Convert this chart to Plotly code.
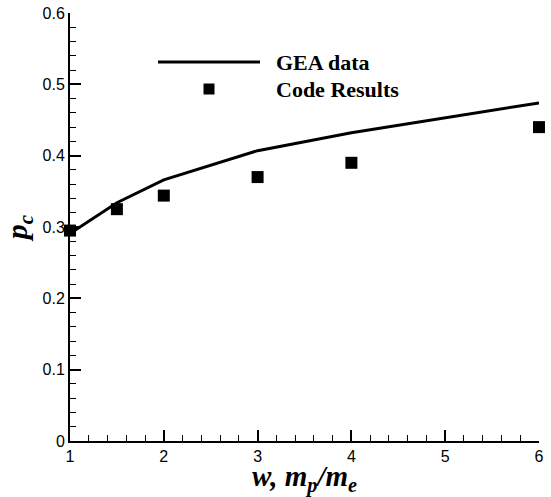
import plotly.graph_objects as go

# Mass ratio w = m_p/m_e
gea_w = [1, 1.5, 2, 3, 4, 6]
gea_pc = [0.291, 0.334, 0.366, 0.407, 0.432, 0.474]

code_w = [1, 1.5, 2, 3, 4, 6]
code_pc = [0.295, 0.325, 0.344, 0.370, 0.390, 0.440]

x_ticks = [1, 2, 3, 4, 5, 6]
y_ticks = [0, 0.1, 0.2, 0.3, 0.4, 0.5, 0.6]
y_ticktext = ["0", "0.1", "0.2", "0.3", "0.4", "0.5", "0.6"]

serif = "Liberation Serif"
sans = "Liberation Sans"

fig = go.Figure()
fig.add_trace(go.Scatter(x=gea_w, y=gea_pc, mode="lines", name="GEA data",
                         line=dict(color="black", width=3), showlegend=False))
fig.add_trace(go.Scatter(x=code_w, y=code_pc, mode="markers", name="Code Results",
                         marker=dict(symbol="square", size=12, color="black",
                                     line=dict(width=0)),
                         showlegend=False, cliponaxis=False))

# Legend drawn by hand: long line sample and square marker
fig.add_shape(type="line", xref="paper", yref="paper",
              x0=(158 - 70) / 469, x1=(260 - 70) / 469,
              y0=(441 - 62) / 428, y1=(441 - 62) / 428,
              line=dict(color="black", width=3))
fig.add_shape(type="rect", xref="paper", yref="paper",
              x0=(203.5 - 70) / 469, x1=(214.5 - 70) / 469,
              y0=(441 - 94.5) / 428, y1=(441 - 83.5) / 428,
              line=dict(width=0), fillcolor="black")
for label, ypix in [("GEA data", 62), ("Code Results", 89)]:
    fig.add_annotation(text=f"<b>{label}</b>", xref="paper", yref="paper",
                       x=(274 - 70) / 469, y=(441 - ypix) / 428,
                       xanchor="left", yanchor="middle", showarrow=False,
                       font=dict(family=serif, size=22, color="black"))

tick_font = dict(family=sans, size=16, color="black")

fig.update_layout(
    width=551, height=497,
    margin=dict(l=70, r=12, t=13, b=56),
    plot_bgcolor="white", paper_bgcolor="white",
    font=dict(family=sans, size=16, color="black"),
    xaxis=dict(
        range=[1, 6], tickmode="array", tickvals=x_ticks,
        ticktext=[str(v) for v in x_ticks], tickfont=tick_font,
        automargin=False,
        showgrid=False, zeroline=False, showline=True, linecolor="black", linewidth=2,
        ticks="inside", ticklen=11, tickwidth=2, tickcolor="black",
        minor=dict(dtick=0.2, ticks="inside", ticklen=6, tickwidth=1, tickcolor="black"),
        title=dict(text="<b><i>w, m<sub>p</sub>/m<sub>e</sub></i></b>",
                   font=dict(family=serif, size=29, color="black"), standoff=7),
    ),
    yaxis=dict(
        range=[0, 0.6], tickmode="array", tickvals=y_ticks,
        ticktext=y_ticktext, tickfont=tick_font,
        automargin=False,
        showgrid=False, zeroline=False, showline=True, linecolor="black", linewidth=2,
        ticks="inside", ticklen=11, tickwidth=2, tickcolor="black",
        minor=dict(dtick=0.02, ticks="inside", ticklen=6, tickwidth=1, tickcolor="black"),
        title=dict(text="<b><i>p<sub>c</sub></i></b>",
                   font=dict(family=serif, size=30, color="black"), standoff=6),
    ),
)

fig.write_html("out.html")
